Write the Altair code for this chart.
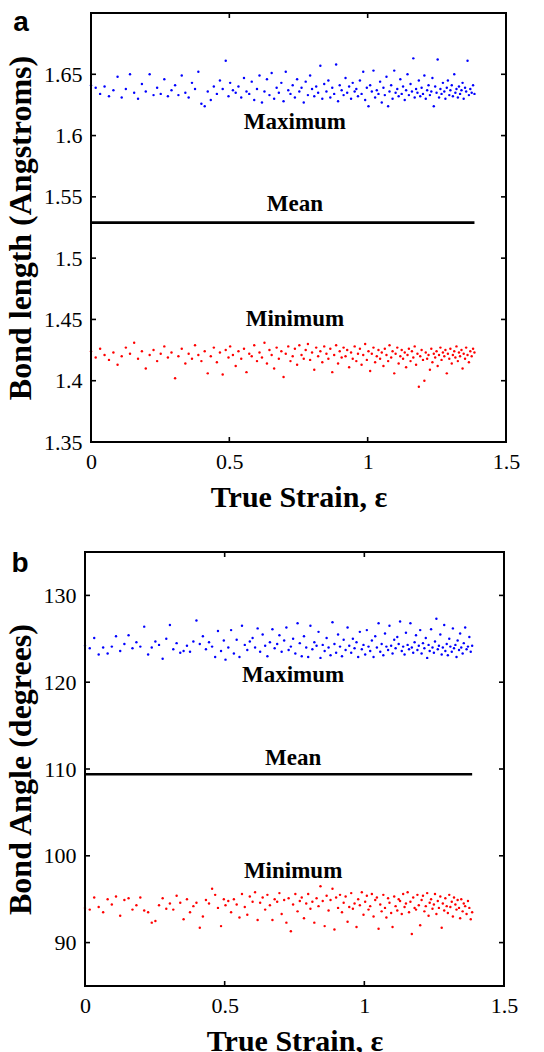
import altair as alt
import pandas as pd

# ---------------- data ----------------
strain = [
    0.000, 0.017, 0.033, 0.049, 0.065, 0.081, 0.096, 0.111, 0.126, 0.141,
    0.156, 0.170, 0.184, 0.198, 0.212, 0.226, 0.239, 0.252, 0.265, 0.278,
    0.291, 0.304, 0.316, 0.328, 0.341, 0.353, 0.365, 0.376, 0.388, 0.399,
    0.411, 0.422, 0.433, 0.444, 0.455, 0.466, 0.476, 0.487, 0.497, 0.503,
    0.513, 0.523, 0.533, 0.543, 0.553, 0.562, 0.572, 0.581, 0.590, 0.600,
    0.609, 0.618, 0.627, 0.636, 0.645, 0.653, 0.662, 0.671, 0.679, 0.688,
    0.696, 0.704, 0.713, 0.721, 0.729, 0.737, 0.745, 0.753, 0.761, 0.769,
    0.776, 0.784, 0.792, 0.799, 0.807, 0.814, 0.821, 0.829, 0.836, 0.843,
    0.851, 0.858, 0.865, 0.872, 0.879, 0.886, 0.893, 0.899, 0.906, 0.913,
    0.920, 0.926, 0.933, 0.940, 0.946, 0.953, 0.959, 0.965, 0.972, 0.978,
    0.984, 0.991, 0.997, 1.003, 1.009, 1.015, 1.021, 1.027, 1.033, 1.039,
    1.045, 1.051, 1.057, 1.062, 1.068, 1.074, 1.079, 1.085, 1.090, 1.096,
    1.101, 1.107, 1.112, 1.118, 1.123, 1.128, 1.134, 1.139, 1.144, 1.149,
    1.155, 1.160, 1.165, 1.170, 1.175, 1.180, 1.185, 1.190, 1.195, 1.200,
    1.205, 1.210, 1.215, 1.220, 1.225, 1.230, 1.234, 1.239, 1.244, 1.249,
    1.253, 1.258, 1.263, 1.267, 1.272, 1.277, 1.281, 1.286, 1.290, 1.295,
    1.299, 1.304, 1.308, 1.313, 1.317, 1.321, 1.326, 1.330, 1.334, 1.339,
    1.343, 1.347, 1.352, 1.356, 1.361, 1.366, 1.371, 1.376, 1.381, 1.386,
]

bond_len_max = [
    1.641, 1.639, 1.634, 1.640, 1.632, 1.637, 1.648, 1.631, 1.638, 1.650,
    1.635, 1.630, 1.642, 1.636, 1.650, 1.633, 1.639, 1.634, 1.646, 1.632,
    1.637, 1.641, 1.633, 1.649, 1.635, 1.631, 1.643, 1.638, 1.652, 1.626,
    1.624, 1.636, 1.629, 1.640, 1.634, 1.645, 1.638, 1.661, 1.632, 1.643,
    1.637, 1.635, 1.640, 1.631, 1.647, 1.636, 1.634, 1.644, 1.629, 1.638,
    1.649, 1.627, 1.636, 1.646, 1.633, 1.651, 1.630, 1.639, 1.635, 1.643,
    1.628, 1.652, 1.637, 1.634, 1.641, 1.631, 1.646, 1.636, 1.639, 1.627,
    1.644, 1.633, 1.649, 1.638, 1.632, 1.640, 1.635, 1.657, 1.630, 1.642,
    1.636, 1.645, 1.631, 1.639, 1.634, 1.658, 1.628, 1.641, 1.637, 1.633,
    1.647, 1.635, 1.640, 1.630, 1.643, 1.636, 1.638, 1.632, 1.645, 1.634,
    1.652, 1.629, 1.639, 1.624, 1.641, 1.636, 1.653, 1.631, 1.637, 1.634,
    1.644, 1.627, 1.639, 1.633, 1.648, 1.624, 1.636, 1.641, 1.630, 1.653,
    1.635, 1.638, 1.632, 1.646, 1.634, 1.640, 1.629, 1.637, 1.650, 1.633,
    1.642, 1.636, 1.663, 1.631, 1.638, 1.635, 1.645, 1.632, 1.639, 1.634,
    1.649, 1.630, 1.637, 1.641, 1.633, 1.636, 1.647, 1.624, 1.640, 1.635,
    1.662, 1.631, 1.638, 1.634, 1.643, 1.636, 1.630, 1.639, 1.645, 1.633,
    1.637, 1.641, 1.632, 1.650, 1.635, 1.638, 1.631, 1.640, 1.634, 1.637,
    1.643, 1.630, 1.639, 1.636, 1.661, 1.633, 1.638, 1.635, 1.641, 1.634,
]

bond_len_min = [
    1.424, 1.419, 1.426, 1.421, 1.417, 1.423, 1.413, 1.420, 1.427, 1.422,
    1.431, 1.418, 1.424, 1.410, 1.421, 1.425, 1.416, 1.422, 1.428, 1.419,
    1.423, 1.402, 1.420, 1.426, 1.414, 1.422, 1.418, 1.429, 1.421, 1.416,
    1.424, 1.406, 1.420, 1.427, 1.415, 1.423, 1.405, 1.425, 1.419, 1.428,
    1.421, 1.412, 1.424, 1.418, 1.426, 1.407, 1.422, 1.420, 1.429, 1.416,
    1.423, 1.419, 1.431, 1.414, 1.425, 1.421, 1.410, 1.427, 1.418, 1.424,
    1.403, 1.422, 1.428, 1.416, 1.420, 1.426, 1.413, 1.429, 1.421, 1.418,
    1.425, 1.430, 1.417, 1.423, 1.409, 1.427, 1.420, 1.424, 1.415, 1.428,
    1.422, 1.418, 1.426, 1.407, 1.421, 1.429, 1.414, 1.424, 1.419, 1.427,
    1.420, 1.425, 1.411, 1.423, 1.418, 1.428, 1.416, 1.422, 1.426, 1.413,
    1.421, 1.430, 1.417, 1.424, 1.408, 1.422, 1.427, 1.415, 1.420, 1.425,
    1.418, 1.423, 1.412, 1.426, 1.421, 1.416, 1.429, 1.419, 1.424, 1.406,
    1.422, 1.427, 1.414, 1.420, 1.425, 1.418, 1.423, 1.411, 1.421, 1.426,
    1.416, 1.424, 1.419, 1.428, 1.413, 1.422, 1.395, 1.420, 1.425, 1.417,
    1.400, 1.423, 1.418, 1.421, 1.409, 1.426, 1.415, 1.422, 1.419, 1.424,
    1.412, 1.421, 1.427, 1.417, 1.423, 1.420, 1.425, 1.406, 1.422, 1.418,
    1.426, 1.414, 1.421, 1.424, 1.419, 1.428, 1.416, 1.423, 1.420, 1.425,
    1.410, 1.422, 1.418, 1.427, 1.421, 1.415, 1.424, 1.420, 1.426, 1.423,
]

bond_ang_max = [
    124.2, 123.9, 125.1, 123.2, 124.0, 123.3, 124.1, 125.3, 123.6, 124.4,
    125.4, 123.9, 124.6, 124.1, 126.4, 123.2, 124.0, 124.7, 124.3, 122.7,
    125.0, 126.6, 123.8, 124.5, 123.4, 123.6, 124.2, 123.5, 124.7, 127.1,
    124.4, 125.3, 123.8, 124.6, 124.1, 122.9, 125.9, 123.6, 124.8, 122.6,
    124.0, 126.0, 123.3, 124.9, 122.9, 126.5, 124.3, 123.7, 124.7, 125.1,
    124.0, 126.2, 123.5, 125.5, 124.2, 123.0, 124.6, 126.1, 123.9, 124.4,
    125.4, 123.5, 124.8, 126.3, 123.7, 124.1, 125.0, 123.3, 126.8, 124.5,
    123.0, 125.3, 124.0, 122.9, 126.5, 123.8, 124.6, 124.2, 125.8, 122.8,
    124.3, 123.6, 125.1, 124.0, 123.1, 126.9, 124.4, 123.4, 125.5, 124.1,
    123.0, 124.9, 123.7, 126.3, 124.2, 123.4, 125.0, 123.9, 124.6, 122.9,
    125.8, 123.8, 124.3, 123.2, 126.0, 124.1, 123.6, 124.8, 122.9, 125.3,
    124.0, 126.8, 123.5, 124.4, 123.1, 125.6, 124.1, 123.7, 126.5, 124.2,
    123.3, 124.9, 123.9, 125.2, 124.4, 127.0, 123.6, 124.1, 123.2, 125.7,
    124.3, 123.8, 126.8, 124.0, 123.4, 124.6, 125.4, 123.7, 124.2, 126.0,
    123.3, 124.5, 123.9, 125.1, 122.8, 124.3, 123.6, 126.1, 124.0, 123.4,
    124.7, 127.3, 123.8, 124.2, 125.5, 123.2, 124.0, 126.6, 123.6, 124.4,
    123.1, 125.0, 124.1, 123.5, 126.2, 123.9, 124.3, 122.9, 124.8, 123.7,
    125.6, 124.0, 123.3, 124.5, 126.3, 123.8, 124.1, 125.2, 123.5, 124.2,
]

bond_ang_min = [
    94.0, 93.8, 95.2, 94.1, 93.5, 95.0, 94.4, 95.3, 93.1, 94.9,
    95.1, 93.8, 94.3, 95.2, 93.7, 93.5, 92.3, 92.5, 94.3, 95.1,
    93.9, 94.5, 93.8, 95.4, 94.6, 92.7, 95.0, 93.5, 94.2, 94.6,
    91.7, 93.0, 94.9, 94.5, 96.2, 95.5, 94.0, 91.9, 95.0, 94.3,
    94.8, 93.5, 95.0, 94.4, 92.9, 95.6, 94.1, 93.2, 95.3, 94.7,
    95.8, 92.6, 94.6, 95.2, 93.8, 95.5, 94.3, 92.6, 95.0, 94.7,
    95.7, 93.3, 94.9, 92.3, 95.1, 91.3, 94.4, 95.6, 93.6, 94.8,
    95.2, 92.8, 94.5, 95.6, 93.9, 94.7, 92.3, 95.1, 94.2, 96.5,
    94.8, 91.9, 95.4, 93.7, 94.9, 96.2, 91.5, 95.2, 94.0, 95.5,
    93.5, 94.6, 95.3, 92.4, 94.1, 95.7, 93.9, 94.5, 91.8, 95.0,
    94.3, 95.8, 93.2, 94.7, 95.4, 93.8, 94.2, 95.6, 93.0, 94.9,
    95.2, 91.6, 94.4, 93.6, 95.5, 94.0, 92.9, 95.1, 94.6, 93.4,
    91.8, 95.3, 94.2, 93.7, 95.0, 94.8, 93.3, 95.6, 94.1, 94.5,
    95.8, 93.5, 94.7, 91.0, 95.2, 94.0, 93.8, 95.5, 94.3, 92.0,
    94.9, 95.4, 93.6, 94.2, 95.7, 93.1, 94.6, 95.0, 93.9, 94.4,
    95.6, 93.3, 94.8, 94.0, 95.3, 91.7, 94.5, 93.7, 95.1, 94.2,
    93.4, 95.5, 94.1, 94.7, 93.0, 95.2, 94.4, 93.8, 94.9, 94.0,
    92.8, 95.0, 93.6, 94.5, 94.2, 93.3, 94.8, 94.0, 92.7, 93.5,
]

mean_strain = [0.0, 1.386]
bond_len_mean = [1.529, 1.529]
bond_ang_mean = [109.4, 109.4]

x_ticks = [0, 0.5, 1, 1.5]
len_ticks = [1.35, 1.4, 1.45, 1.5, 1.55, 1.6, 1.65]
ang_ticks = [90, 100, 110, 120, 130]

label_names = ["Maximum", "Mean", "Minimum"]
len_label_x = [0.737, 0.737, 0.737]
len_label_y = [1.611, 1.5443, 1.4506]
ang_label_x = [0.745, 0.745, 0.745]
ang_label_y = [120.8, 111.3, 98.2]

SERIF = "Liberation Serif"
SANS = "Liberation Sans"


def panel(W, H, shift, ydom, yticks, yfmt, ytitle, vmax, vmin, vmean,
          lab_x, lab_y, letter, letter_dx, letter_dy):
    # plot frame spans [-shift, W] horizontally inside the group
    xs = alt.Scale(domain=[0, 1.5], nice=False, zero=False,
                   range=[-shift, W])
    ys = alt.Scale(domain=ydom, nice=False, zero=False)
    xax = alt.Axis(values=x_ticks, format=".1~f", title="True Strain, ε",
                   ticks=False, domain=False, grid=False, labelFlush=False,
                   labelOverlap=False, labelFont=SERIF, labelFontSize=22,
                   labelColor="black", labelPadding=9, titleFont=SERIF,
                   titleFontSize=30, titleFontWeight="bold", titleColor="black",
                   titlePadding=10)
    yax = alt.Axis(values=yticks, format=yfmt, title=ytitle, offset=shift,
                   ticks=False, domain=False, grid=False, labelFlush=False,
                   labelOverlap=False, labelFont=SERIF, labelFontSize=22,
                   labelColor="black", labelPadding=9, titleFont=SERIF,
                   titleFontSize=32, titleFontWeight="bold", titleColor="black",
                   titlePadding=6)

    n = min(len(strain), len(vmax), len(vmin))
    pts = pd.DataFrame({
        "x": strain[:n] + strain[:n],
        "y": vmax[:n] + vmin[:n],
        "s": ["max"] * n + ["min"] * n,
    })
    scatter = alt.Chart(pts).mark_circle(size=6, opacity=1).encode(
        x=alt.X("x:Q", scale=xs, axis=xax),
        y=alt.Y("y:Q", scale=ys, axis=yax),
        color=alt.Color("s:N", scale=alt.Scale(domain=["max", "min"],
                        range=["#0000ff", "#ff0000"]), legend=None),
    )

    mean_df = pd.DataFrame({"x": mean_strain, "y": vmean})
    mean = alt.Chart(mean_df).mark_line(color="black", strokeWidth=2.6).encode(
        x=alt.X("x:Q", scale=xs, axis=xax),
        y=alt.Y("y:Q", scale=ys, axis=yax),
    )

    lab_df = pd.DataFrame({"x": lab_x, "y": lab_y, "t": label_names})
    labels = alt.Chart(lab_df).mark_text(
        font=SERIF, fontSize=23, fontWeight="bold", color="black",
        align="center", baseline="middle").encode(
        x=alt.X("x:Q", scale=xs, axis=xax),
        y=alt.Y("y:Q", scale=ys, axis=yax),
        text="t:N",
    )

    inner_x = [v for v in x_ticks if 0 < v < 1.5]
    inner_y = [v for v in yticks if ydom[0] < v < ydom[1]]
    xt = pd.DataFrame({"x": inner_x})
    yt = pd.DataFrame({"y": inner_y})
    tick_bottom = alt.Chart(xt).mark_rule(color="black", strokeWidth=1.6).encode(
        x=alt.X("x:Q", scale=xs, axis=xax), y=alt.value(H), y2=alt.value(H - 5))
    tick_top = alt.Chart(xt).mark_rule(color="black", strokeWidth=1.6).encode(
        x=alt.X("x:Q", scale=xs, axis=xax), y=alt.value(0), y2=alt.value(5))
    tick_left = alt.Chart(yt).mark_rule(color="black", strokeWidth=1.6).encode(
        y=alt.Y("y:Q", scale=ys, axis=yax), x=alt.value(-shift),
        x2=alt.value(-shift + 5))
    tick_right = alt.Chart(yt).mark_rule(color="black", strokeWidth=1.6).encode(
        y=alt.Y("y:Q", scale=ys, axis=yax), x=alt.value(W), x2=alt.value(W - 5))

    frame = alt.Chart(pd.DataFrame({"f": [0]})).mark_rect(
        fillOpacity=0, stroke="black", strokeWidth=2).encode(
        x=alt.value(-shift), x2=alt.value(W), y=alt.value(0), y2=alt.value(H))

    letter_df = pd.DataFrame({"t": [letter]})
    letter_mark = alt.Chart(letter_df).mark_text(
        font=SANS, fontSize=28, fontWeight="bold", color="black",
        align="center", baseline="middle").encode(
        x=alt.value(letter_dx), y=alt.value(letter_dy), text="t:N")

    return alt.layer(scatter, mean, labels, tick_bottom, tick_top,
                     tick_left, tick_right, frame, letter_mark).properties(
        width=W, height=H)


panel_a = panel(415, 429, 0, [1.35, 1.70], len_ticks, ".2~f",
                "Bond length (Angstroms)", bond_len_max, bond_len_min,
                bond_len_mean, len_label_x, len_label_y, "a", -70, 10)
panel_b = panel(413, 434, 6, [85, 135], ang_ticks, "d",
                "Bond Angle (degrees)", bond_ang_max, bond_ang_min,
                bond_ang_mean, ang_label_x, ang_label_y, "b", -71, 12)

chart = alt.vconcat(panel_a, panel_b, spacing=38).properties(
    padding={"left": 4, "top": 9, "right": 10, "bottom": 5}
).configure_view(stroke=None)

chart.save("out.html", embed_options={"renderer": "svg", "actions": False})
